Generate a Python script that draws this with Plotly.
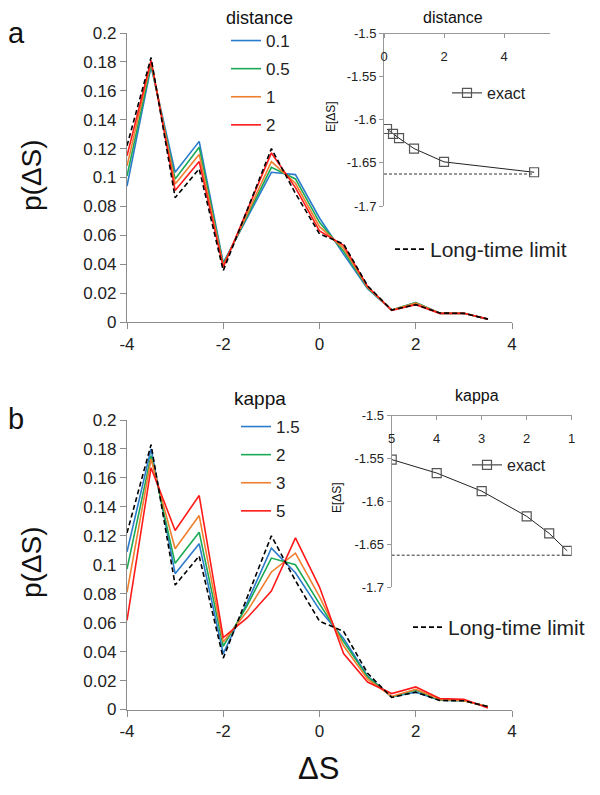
import plotly.graph_objects as go

# the page adds an 8 px body margin, so the figure is drawn 8 px smaller
# and every position below is given in window pixels
OFF = 8
FW, FH = 600 - OFF, 795 - OFF
FONT = "Arial, Liberation Sans, sans-serif"

# shared x grid of the distributions
DS = [-4, -3.5, -3, -2.5, -2, -1.5, -1, -0.5, 0, 0.5, 1, 1.5, 2, 2.5, 3, 3.5]

# long-time limit (dashed, same in both panels)
LIMIT = [0.122, 0.183, 0.086, 0.106, 0.0355, 0.078, 0.120, 0.089, 0.061, 0.054,
         0.025, 0.0083, 0.012, 0.0062, 0.006, 0.002]

# panel a: distance
DIST_LABELS = ["0.1", "0.5", "1", "2"]
P_D01 = [0.094, 0.177, 0.1036, 0.125, 0.041, 0.072, 0.1036, 0.102, 0.072, 0.047,
         0.023, 0.0083, 0.0135, 0.006, 0.006, 0.002]
P_D05 = [0.101, 0.178, 0.099, 0.121, 0.040, 0.0735, 0.107, 0.099, 0.069, 0.049,
         0.0235, 0.0083, 0.0135, 0.006, 0.006, 0.002]
P_D1 = [0.108, 0.180, 0.0955, 0.116, 0.039, 0.075, 0.111, 0.096, 0.066, 0.051,
        0.024, 0.0083, 0.013, 0.006, 0.006, 0.002]
P_D2 = [0.115, 0.181, 0.091, 0.111, 0.038, 0.0775, 0.117, 0.093, 0.063, 0.053,
        0.0245, 0.008, 0.012, 0.006, 0.006, 0.002]

# panel b: kappa
KAPPA_LABELS = ["1.5", "2", "3", "5"]
P_K15 = [0.109, 0.180, 0.0938, 0.1145, 0.0386, 0.074, 0.1115, 0.0945, 0.069, 0.049,
         0.023, 0.0087, 0.012, 0.0065, 0.006, 0.002]
P_K2 = [0.097, 0.1754, 0.101, 0.1225, 0.0437, 0.072, 0.1046, 0.100, 0.073, 0.047,
        0.0225, 0.0087, 0.0135, 0.0065, 0.006, 0.002]
P_K3 = [0.081, 0.173, 0.111, 0.134, 0.0466, 0.068, 0.095, 0.108, 0.078, 0.044,
        0.021, 0.009, 0.014, 0.007, 0.006, 0.002]
P_K5 = [0.0616, 0.167, 0.1237, 0.1478, 0.0497, 0.0634, 0.0818, 0.1186, 0.0846, 0.0386,
        0.019, 0.011, 0.0156, 0.0076, 0.007, 0.001]

# insets: expected entropy change
INSET_DIST = [0.1, 0.3, 0.5, 1, 2, 5]
EXACT_DIST = [-1.611, -1.6166, -1.6216, -1.6336, -1.649, -1.661]
INSET_KAPPA = [5, 4, 3, 2, 1.5, 1.1]
EXACT_KAPPA = [-1.5518, -1.5675, -1.5885, -1.6178, -1.6377, -1.658]
E_LIMIT = -1.663

COLORS = ["#2b7bcc", "#1aaa55", "#f07f2f", "#ff1a1a"]

X_TICKS = [-4, -2, 0, 2, 4]
Y_TICKS = [0, 0.02, 0.04, 0.06, 0.08, 0.1, 0.12, 0.14, 0.16, 0.18, 0.2]
E_TICKS = [-1.5, -1.55, -1.6, -1.65, -1.7]


def px(x):
    return (x - OFF) / FW


def py(y):
    return 1 - (y - OFF) / FH


def tick_text(vals):
    return [f"{v:g}" for v in vals]


fig = go.Figure()

# ---- main curves
panels = [
    ("x", "y", [P_D01, P_D05, P_D1, P_D2], DIST_LABELS, "legend", "legend2"),
    ("x2", "y2", [P_K15, P_K2, P_K3, P_K5], KAPPA_LABELS, "legend4", "legend5"),
]
for xa, ya, series, labels, leg, leg_lim in panels:
    for i, (vals, lab) in enumerate(zip(series, labels)):
        fig.add_trace(go.Scatter(
            x=DS, y=vals, mode="lines", name=lab,
            line=dict(color=COLORS[i], width=1.6),
            xaxis=xa, yaxis=ya, legend=leg, legendgroup=f"{leg}{i}"
        ))
    fig.add_trace(go.Scatter(
        x=DS, y=LIMIT, mode="lines", name="Long-time limit",
        line=dict(color="black", width=1.6, dash="5px,3px"),
        xaxis=xa, yaxis=ya, legend=leg_lim
    ))

# ---- insets
insets = [
    ("x3", "y3", INSET_DIST, EXACT_DIST, [0, 5], "legend3"),
    ("x4", "y4", INSET_KAPPA, EXACT_KAPPA, [5, 1.1], "legend6"),
]
for xa, ya, xs, ys, span, leg in insets:
    fig.add_trace(go.Scatter(
        x=span, y=[E_LIMIT, E_LIMIT], mode="lines", showlegend=False,
        line=dict(color="#333", width=1, dash="3px,2px"),
        xaxis=xa, yaxis=ya
    ))
    fig.add_trace(go.Scatter(
        x=xs, y=ys, mode="lines+markers", name="exact",
        line=dict(color="#222", width=1),
        marker=dict(symbol="square-open", size=9, color="#555",
                    line=dict(width=1.2)),
        xaxis=xa, yaxis=ya, legend=leg
    ))

axis_font = dict(family=FONT, size=17, color="#222")
main_x = dict(range=[-4, 4], tickvals=X_TICKS, ticktext=tick_text(X_TICKS),
              showgrid=False, zeroline=False, showline=True, linecolor="#8c8c8c",
              linewidth=1.3, ticks="outside", ticklen=6, tickcolor="#8c8c8c",
              tickfont=axis_font, domain=[px(127), px(512)], automargin=False)
main_y = dict(range=[0, 0.2], tickvals=Y_TICKS, ticktext=tick_text(Y_TICKS),
              showgrid=False, zeroline=False, showline=True, linecolor="#8c8c8c",
              linewidth=1.3, ticks="outside", ticklen=6, tickcolor="#8c8c8c",
              tickfont=axis_font, automargin=False)

inset_font = dict(family=FONT, size=13, color="#222")
inset_x = dict(side="bottom", anchor="free", showgrid=False,
               zeroline=False, showline=True, linecolor="#999", linewidth=1,
               ticks="outside", ticklen=4, tickcolor="#999", tickfont=inset_font,
               ticklabelstandoff=7, automargin=False)
inset_y = dict(range=[-1.7, -1.5], tickvals=E_TICKS, ticktext=tick_text(E_TICKS),
               showgrid=False, zeroline=False, showline=True, linecolor="#999",
               linewidth=1, ticks="outside", ticklen=4, tickcolor="#999",
               tickfont=inset_font, automargin=False)

legend_base = dict(xanchor="left", yanchor="top", bgcolor="rgba(0,0,0,0)")

fig.update_layout(
    width=FW, height=FH,
    margin=dict(l=0, r=0, t=0, b=0, autoexpand=False),
    plot_bgcolor="white", paper_bgcolor="white",
    font=dict(family=FONT, color="#222"),
    xaxis=dict(main_x, anchor="y"),
    yaxis=dict(main_y, anchor="x", domain=[py(322), py(33)]),
    xaxis2=dict(main_x, anchor="y2"),
    yaxis2=dict(main_y, anchor="x2", domain=[py(709.5), py(420)]),
    xaxis3=dict(inset_x, position=py(33), range=[0, 5.53], tickvals=[0, 2, 4],
                domain=[px(384), px(550)]),
    yaxis3=dict(inset_y, anchor="x3", domain=[py(206), py(33)]),
    xaxis4=dict(inset_x, position=py(415), range=[5, 1],
                tickvals=[5, 4, 3, 2, 1], domain=[px(391.7), px(571.7)]),
    yaxis4=dict(inset_y, anchor="x4", domain=[py(587), py(415)]),
    legend=dict(legend_base, x=px(226), y=py(23), font=dict(size=17),
                tracegroupgap=3),
    legend2=dict(legend_base, x=px(390), y=py(229), font=dict(size=21)),
    legend3=dict(legend_base, x=px(447), y=py(76), font=dict(size=16)),
    legend4=dict(legend_base, x=px(236), y=py(409), font=dict(size=17),
                 tracegroupgap=3),
    legend5=dict(legend_base, x=px(408), y=py(607), font=dict(size=21)),
    legend6=dict(legend_base, x=px(467), y=py(448), font=dict(size=16)),
)

annotations = [
    ("a", 16, 33, 29, 0),
    ("b", 16, 419, 29, 0),
    ("p(ΔS)", 31, 175, 28, -90),
    ("p(ΔS)", 31, 562, 28, -90),
    ("ΔS", 318, 768, 31, 0),
    ("distance", 259, 18, 18, 0),
    ("kappa", 260, 398, 19, 0),
    ("distance", 453, 17, 16, 0),
    ("kappa", 477, 395, 16, 0),
    ("E[ΔS]", 331, 117, 12, -90),
    ("E[ΔS]", 337, 498, 12, -90),
]
for text, x, y, size, angle in annotations:
    fig.add_annotation(text=text, x=px(x), y=py(y), xref="paper", yref="paper",
                       xanchor="center", yanchor="middle",
                       showarrow=False, textangle=angle,
                       font=dict(family=FONT, size=size, color="#111"))

fig.write_html("out.html")
